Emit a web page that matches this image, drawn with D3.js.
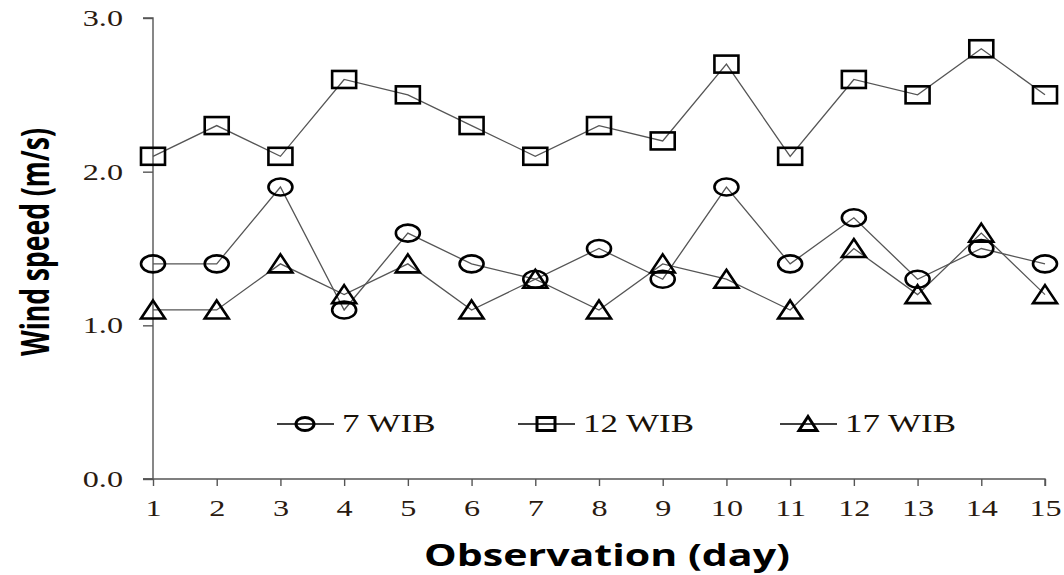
<!DOCTYPE html>
<html><head><meta charset="utf-8">
<script src="https://cdn.jsdelivr.net/npm/d3@7"></script>
<style>body{margin:0;background:#fff}svg{display:block}</style>
</head><body>
<svg id="c" width="1064" height="575"></svg>
<script>
const days = [1,2,3,4,5,6,7,8,9,10,11,12,13,14,15];
const wib7  = [1.4,1.4,1.9,1.1,1.6,1.4,1.3,1.5,1.3,1.9,1.4,1.7,1.3,1.5,1.4];
const wib12 = [2.1,2.3,2.1,2.6,2.5,2.3,2.1,2.3,2.2,2.7,2.1,2.6,2.5,2.8,2.5];
const wib17 = [1.1,1.1,1.4,1.2,1.4,1.1,1.3,1.1,1.4,1.3,1.1,1.5,1.2,1.6,1.2];
const yTicks = [0,1,2,3];
const seriesNames = ["7 WIB","12 WIB","17 WIB"];

const SX = 1.4; // horizontal stretch of serif text
const svg = d3.select("#c");
const x = d3.scaleLinear().domain([1,15]).range([153,1045]);
const y = d3.scaleLinear().domain([0,3]).range([479,18]);

// axes
const yAxis = d3.axisLeft(y).tickValues(yTicks).tickFormat(d3.format(".1f")).tickSize(10).tickPadding(20);
const gy = svg.append("g").attr("transform","translate(153,0)").call(yAxis);
gy.select(".domain").attr("stroke","#555").attr("stroke-width",1.4).attr("d","M-10,18H0V479H-10");
gy.selectAll(".tick line").attr("stroke","#555").attr("stroke-width",1.4);
gy.selectAll(".tick text").attr("font-family","'Liberation Serif',serif").attr("font-size",23).attr("fill","#2a1a10")
  .attr("x",-30/SX).attr("transform",`scale(${SX},1)`);

const xAxis = d3.axisBottom(x).tickValues(days).tickSize(7).tickPadding(14);
const gx = svg.append("g").attr("transform","translate(0,479)").call(xAxis);
gx.select(".domain").attr("stroke","#555").attr("stroke-width",1.4).attr("d","M143,0H1045V7");
gx.selectAll(".tick line").attr("stroke","#555").attr("stroke-width",1.4);
gx.selectAll(".tick text").attr("font-family","'Liberation Serif',serif").attr("font-size",23).attr("fill","#2a1a10")
  .attr("transform",`scale(${SX},1)`);

// axis titles
svg.append("text").attr("transform","translate(49,242) rotate(-90)")
  .attr("text-anchor","middle").attr("font-family","'Open Sans',sans-serif").attr("font-weight","bold")
  .attr("font-size",39).attr("textLength",228).attr("lengthAdjust","spacingAndGlyphs").text("Wind speed (m/s)");
svg.append("text").attr("x",607).attr("y",566)
  .attr("text-anchor","middle").attr("font-family","'Open Sans',sans-serif").attr("font-weight","bold")
  .attr("font-size",31).attr("textLength",366).attr("lengthAdjust","spacingAndGlyphs").text("Observation (day)");

// marker shapes (horizontally stretched)
function marker(sel, kind, W, H, sw){
  if(kind===0){
    sel.append("ellipse").attr("rx",W).attr("ry",H);
  } else if(kind===1){
    sel.append("rect").attr("x",-W).attr("y",-H).attr("width",2*W).attr("height",2*H);
  } else {
    sel.append("path").attr("d",`M0,${-H-1}L${W},${H}L${-W},${H}Z`);
  }
  sel.attr("fill","none").attr("stroke","#000").attr("stroke-width",sw);
}

const all = [wib7, wib12, wib17];
const line = d3.line().x((d,i)=>x(days[i])).y(d=>y(d));
all.forEach((vals,k)=>{
  svg.append("path").attr("d",line(vals)).attr("fill","none").attr("stroke","#555").attr("stroke-width",1.3);
});
all.forEach((vals,k)=>{
  vals.forEach((v,i)=>{
    const g = svg.append("g").attr("transform",`translate(${x(days[i])},${y(v)})`);
    marker(g,k,12,8.5,2.6);
  });
});

// legend
const legX = [277,518,780];
seriesNames.forEach((n,k)=>{
  const g = svg.append("g").attr("transform",`translate(${legX[k]},424)`);
  g.append("line").attr("x1",0).attr("x2",57).attr("stroke","#000").attr("stroke-width",1.3);
  const m = g.append("g").attr("transform","translate(28,0)");
  marker(m,k,9,6.5,3);
  g.append("text").attr("x",65/SX).attr("y",8).attr("font-family","'Liberation Serif',serif")
    .attr("font-size",25).attr("fill","#1a1208").attr("transform",`scale(${SX},1)`).text(n);
});
</script>
</body></html>
